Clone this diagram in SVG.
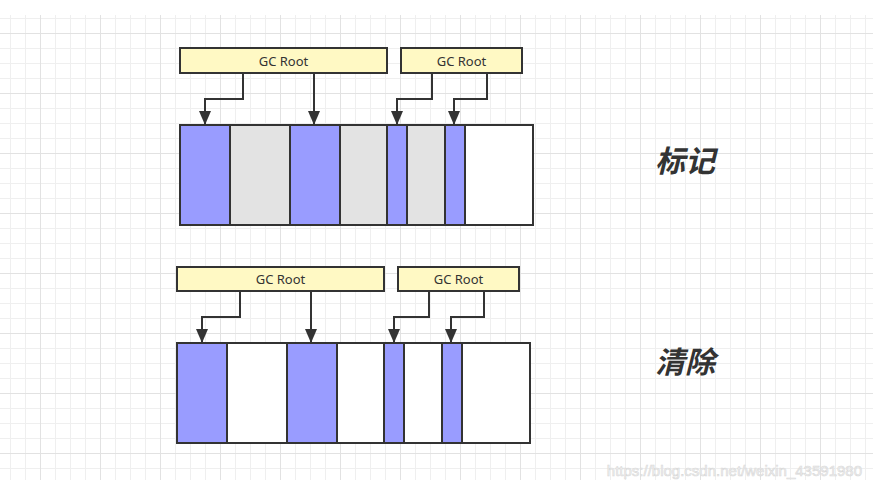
<svg xmlns="http://www.w3.org/2000/svg" width="879" height="480" viewBox="0 0 879 480">
<defs>
<pattern id="minor" patternUnits="userSpaceOnUse" x="10" y="18" width="15" height="15">
<rect x="0" y="0" width="15" height="1" fill="#efefef"/>
<rect x="0" y="0" width="1" height="15" fill="#efefef"/>
</pattern>
<pattern id="major" patternUnits="userSpaceOnUse" x="40" y="33" width="60" height="60">
<rect x="0" y="0" width="60" height="1" fill="#e2e2e2"/>
<rect x="0" y="0" width="1" height="60" fill="#e2e2e2"/>
</pattern>
<marker id="arr" markerUnits="userSpaceOnUse" markerWidth="14" markerHeight="12" refX="14" refY="6" orient="auto" viewBox="0 0 14 12">
<path d="M0 0 L14 6 L0 12 Z" fill="#333333"/>
</marker>
</defs>
<style>
.root{fill:#fff9c4;stroke:#333333;stroke-width:2}
.rt{font-family:"Noto Sans","Liberation Sans",sans-serif;font-size:13px;fill:#333333;text-anchor:middle}
.bar{stroke:#333333;stroke-width:2}
.b{fill:#999cff}
.g{fill:#e3e3e3}
.w{fill:#ffffff}
.c{fill:none;stroke:#333333;stroke-width:2;marker-end:url(#arr)}
.lbl{font-family:"Noto Sans CJK SC",sans-serif;font-size:30px;font-weight:bold;font-style:italic;fill:#333333;text-anchor:middle}
</style>
<rect width="879" height="480" fill="#ffffff"/>
<rect x="0" y="15" width="873" height="465" fill="url(#minor)"/>
<rect x="0" y="15" width="873" height="465" fill="url(#major)"/>

<g id="mark-root1"><rect class="root" x="180" y="48" width="207" height="25"/><text class="rt" x="283.5" y="65.5">GC Root</text></g>
<g id="mark-root2"><rect class="root" x="401" y="48" width="121" height="25"/><text class="rt" x="461.5" y="65.5">GC Root</text></g>
<g id="mark-heap">
<rect class="b" x="180" y="125" width="50" height="100"/>
<rect class="g" x="230" y="125" width="60" height="100"/>
<rect class="b" x="290" y="125" width="50" height="100"/>
<rect class="g" x="340" y="125" width="47" height="100"/>
<rect class="b" x="387" y="125" width="20" height="100"/>
<rect class="g" x="407" y="125" width="38" height="100"/>
<rect class="b" x="445" y="125" width="20" height="100"/>
<rect class="w" x="465" y="125" width="68" height="100"/>
<path class="bar" fill="none" d="M180 125H533V225H180Z M230 125V225 M290 125V225 M340 125V225 M387 125V225 M407 125V225 M445 125V225 M465 125V225"/>
</g>

<g id="sweep-root1"><rect class="root" x="177" y="267" width="207" height="24"/><text class="rt" x="280.5" y="284">GC Root</text></g>
<g id="sweep-root2"><rect class="root" x="398" y="267" width="121" height="24"/><text class="rt" x="458.5" y="284">GC Root</text></g>
<g id="sweep-heap">
<rect class="b" x="177" y="343" width="50" height="100"/>
<rect class="w" x="227" y="343" width="60" height="100"/>
<rect class="b" x="287" y="343" width="50" height="100"/>
<rect class="w" x="337" y="343" width="47" height="100"/>
<rect class="b" x="384" y="343" width="20" height="100"/>
<rect class="w" x="404" y="343" width="38" height="100"/>
<rect class="b" x="442" y="343" width="20" height="100"/>
<rect class="w" x="462" y="343" width="68" height="100"/>
<path class="bar" fill="none" d="M177 343H530V443H177Z M227 343V443 M287 343V443 M337 343V443 M384 343V443 M404 343V443 M442 343V443 M462 343V443"/>
</g>

<g id="connectors">
<path class="c" d="M243 73V99H205V125"/>
<path class="c" d="M314 73V125"/>
<path class="c" d="M432 73V99H397V125"/>
<path class="c" d="M487 73V99H454V125"/>
<path class="c" d="M240 291V317H202V343"/>
<path class="c" d="M311 291V343"/>
<path class="c" d="M429 291V317H394V343"/>
<path class="c" d="M484 291V317H451V343"/>
</g>

<g id="label-mark"><text class="lbl" x="685" y="172">标记</text></g>
<g id="label-sweep"><text class="lbl" x="685" y="373">清除</text></g>
<text x="862" y="476" text-anchor="end" font-family="Liberation Sans,sans-serif" font-size="15" fill="#f4f4f4" stroke="#d8d8d8" stroke-width="0.6">https://blog.csdn.net/weixin_43591980</text>
</svg>
